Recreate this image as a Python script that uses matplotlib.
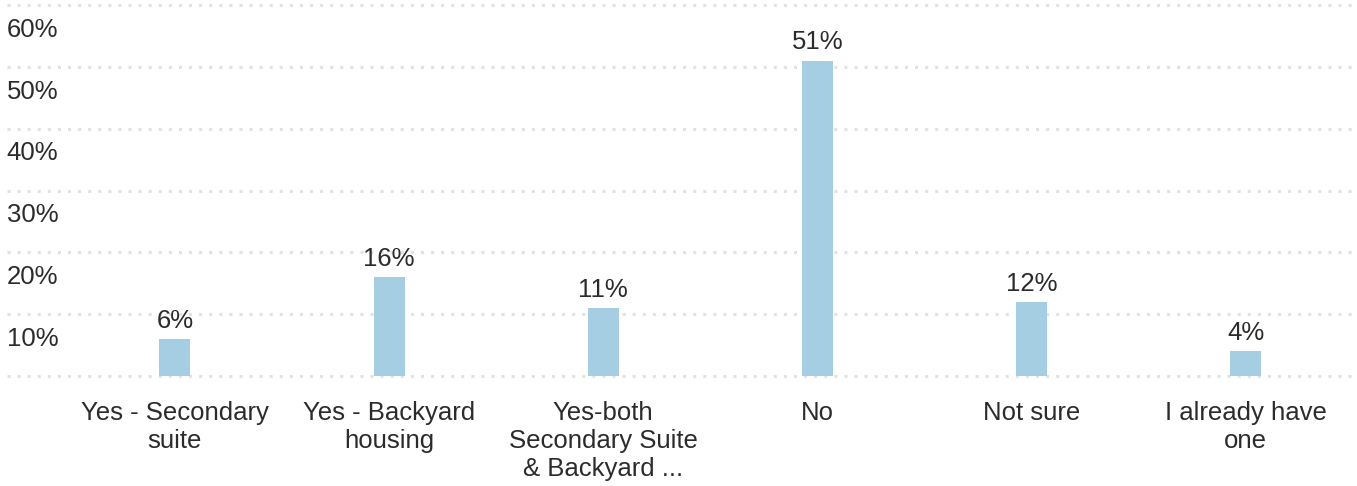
import matplotlib.pyplot as plt

plt.rcParams['font.family'] = ['Liberation Sans', 'DejaVu Sans']

categories = ["Yes - Secondary\nsuite", "Yes - Backyard\nhousing",
              "Yes-both\nSecondary Suite\n& Backyard ...", "No", "Not sure",
              "I already have\none"]
values = [6, 16, 11, 51, 12, 4]
yticks = [10, 20, 30, 40, 50, 60]

bar_color = "#a6cee3"
text_color = "#2b2b2b"
grid_color = "#e2e2e2"

fig = plt.figure(figsize=(13.57, 4.86), dpi=100)
ax = fig.add_axes([0.005, 0.2263, 0.995, 0.7634])

x = range(len(categories))
bars = ax.bar(x, values, width=0.145, color=bar_color, zorder=3)
for b, v in zip(bars, values):
    ax.text(b.get_x() + b.get_width() / 2, v + 1.0, f"{v}%", ha="center",
            va="bottom", fontsize=18.5, color=text_color, zorder=4)

ax.set_xlim(-0.785, 5.52)
ax.set_ylim(0, 60)

# dotted horizontal gridlines, labels sit just under each line
for g in [0] + yticks:
    ax.axhline(g, color=grid_color, lw=2.2, linestyle=(0, (1, 2.3)),
               zorder=1, clip_on=False)
for t in yticks:
    ax.text(0.0, t - 4.0, f"{t}%", transform=ax.get_yaxis_transform(),
            ha="left", va="center", fontsize=18.5, color=text_color)

ax.set_yticks([])
ax.set_xticks(list(x))
ax.set_xticklabels(categories, fontsize=18.5, color=text_color, linespacing=1.2)
ax.tick_params(axis="x", length=0, pad=18)
for s in ax.spines.values():
    s.set_visible(False)

fig.savefig("out.png", dpi=100)
